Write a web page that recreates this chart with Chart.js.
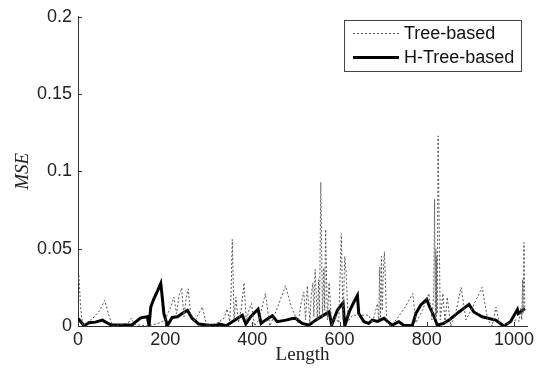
<!DOCTYPE html>
<html>
<head>
<meta charset="utf-8">
<script src="https://cdn.jsdelivr.net/npm/chart.js@4/dist/chart.umd.min.js"></script>
<style>
  html, body { margin: 0; padding: 0; background: #fff; }
  #wrap { width: 548px; height: 379px; }
</style>
</head>
<body>
<div id="wrap"><canvas id="mseChart" width="548" height="379"></canvas></div>
<script>
// Tree-based (dotted) series
const treeLength = [0, 2, 6, 11, 20, 34, 50, 61, 73, 80, 100, 115, 122, 130, 160, 187, 200, 212, 220, 226, 232, 238, 243, 248, 253, 258, 268, 285, 296, 320, 335, 342, 348, 351, 354, 358, 362, 368, 375, 381, 386, 392, 398, 405, 415, 430, 440, 455, 476, 490, 505, 512, 518, 522, 526, 532, 535, 539, 541, 544, 549, 552, 554, 557, 561, 564, 566, 568, 572, 576, 582, 590, 598, 601, 604, 608, 612, 615, 620, 630, 648, 667, 675, 681, 687, 690, 692, 694, 696, 698, 701, 703, 708, 715, 730, 750, 768, 775, 790, 805, 812, 816, 818, 820, 821, 822, 823, 824, 826, 831, 837, 842, 847, 855, 866, 879, 890, 905, 927, 940, 950, 959, 968, 990, 1005, 1012, 1016, 1018, 1020, 1021, 1023, 1025];
const treeMse = [0.028, 0.033, 0.012, 0.0, 0.002, 0.005, 0.010, 0.0166, 0.005, 0.0, 0.001, 0.002, 0.005, 0.001, 0.0, 0.002, 0.004, 0.012, 0.0187, 0.008, 0.02, 0.0246, 0.006, 0.018, 0.024, 0.008, 0.003, 0.0123, 0.0, 0.002, 0.005, 0.011, 0.003, 0.02, 0.056, 0.004, 0.0187, 0.002, 0.012, 0.028, 0.003, 0.01, 0.0145, 0.0, 0.004, 0.021, 0.0, 0.01, 0.026, 0.012, 0.002, 0.015, 0.022, 0.004, 0.026, 0.002, 0.02, 0.028, 0.006, 0.0367, 0.004, 0.03, 0.006, 0.093, 0.005, 0.0378, 0.01, 0.0626, 0.004, 0.028, 0.0, 0.006, 0.002, 0.03, 0.0597, 0.004, 0.045, 0.035, 0.003, 0.007, 0.007, 0.007, 0.002, 0.008, 0.0145, 0.004, 0.038, 0.005, 0.045, 0.01, 0.04, 0.048, 0.003, 0.0, 0.004, 0.012, 0.021, 0.002, 0.01, 0.021, 0.004, 0.02, 0.082, 0.004, 0.05, 0.006, 0.045, 0.008, 0.123, 0.004, 0.021, 0.002, 0.0187, 0.0, 0.008, 0.025, 0.004, 0.012, 0.025, 0.004, 0.0, 0.0123, 0.0, 0.002, 0.004, 0.003, 0.012, 0.004, 0.03, 0.008, 0.054, 0.01];

// H-Tree-based (solid) series
const hTreeLength = [0, 14, 25, 40, 56, 71, 78, 124, 128, 144, 159, 163, 167, 174, 183, 190, 197, 205, 216, 228, 239, 251, 262, 277, 300, 320, 323, 340, 354, 377, 385, 396, 413, 420, 430, 446, 457, 477, 492, 499, 514, 530, 545, 560, 576, 582, 595, 608, 612, 622, 633, 641, 644, 656, 667, 675, 687, 702, 710, 721, 736, 748, 767, 775, 786, 800, 805, 817, 824, 839, 851, 874, 897, 908, 927, 958, 977, 992, 1008, 1010, 1025];
const hTreeMse = [0.0049, 0.0002, 0.0021, 0.0025, 0.0038, 0.0013, 0.0006, 0.0006, 0.0017, 0.0053, 0.006, 0.0002, 0.0123, 0.0176, 0.023, 0.0276, 0.0081, 0.0002, 0.0055, 0.006, 0.0081, 0.0102, 0.0049, 0.0013, 0.0005, 0.0005, 0.0013, 0.0002, 0.0028, 0.007, 0.0013, 0.006, 0.0108, 0.0017, 0.0038, 0.0066, 0.0028, 0.0038, 0.0049, 0.005, 0.0017, 0.0006, 0.0038, 0.0064, 0.0091, 0.0006, 0.0102, 0.015, 0.0, 0.0091, 0.0155, 0.0197, 0.0081, 0.0028, 0.0017, 0.0038, 0.003, 0.005, 0.003, 0.0006, 0.0028, 0.0004, 0.0004, 0.0081, 0.0134, 0.0172, 0.0134, 0.006, 0.0006, 0.0017, 0.0038, 0.0091, 0.014, 0.0091, 0.006, 0.0038, 0.0, 0.0028, 0.0106, 0.008, 0.0113];

const xTicks = [0, 200, 400, 600, 800, 1000];
const yTicks = [0, 0.05, 0.1, 0.15, 0.2];
const seriesNames = ["Tree-based", "H-Tree-based"];

function toPoints(xs, ys) {
  return xs.map((x, i) => ({ x: x, y: ys[i] }));
}

const tickFont = { family: "'Liberation Sans', Arial, sans-serif", size: 18 };
const axisColor = "#333";

// MATLAB style inward ticks + boxed legend inside the axes
const matlabLook = {
  id: "matlabLook",
  afterDraw(chart) {
    const ctx = chart.ctx;
    const xs = chart.scales.x;
    const ys = chart.scales.y;
    const area = chart.chartArea;
    ctx.save();
    ctx.strokeStyle = axisColor;
    ctx.lineWidth = 1;
    ctx.beginPath();
    yTicks.forEach((v) => {
      const py = Math.round(ys.getPixelForValue(v)) + 0.5;
      ctx.moveTo(area.left, py);
      ctx.lineTo(area.left + 4, py);
    });
    xTicks.forEach((v) => {
      const px = Math.round(xs.getPixelForValue(v)) + 0.5;
      ctx.moveTo(px, area.bottom);
      ctx.lineTo(px, area.bottom - 4);
    });
    ctx.stroke();

    // legend box
    const bx = 344.5, by = 20.5, bw = 177, bh = 51;
    ctx.fillStyle = "#fff";
    ctx.fillRect(bx, by, bw, bh);
    ctx.strokeStyle = "#444";
    ctx.strokeRect(bx, by, bw, bh);
    const rows = [33, 57];
    chart.data.datasets.forEach((ds, i) => {
      const y = rows[i];
      ctx.beginPath();
      ctx.strokeStyle = ds.borderColor;
      ctx.lineWidth = ds.borderWidth;
      ctx.setLineDash(ds.borderDash || []);
      ctx.moveTo(353, y + 0.5);
      ctx.lineTo(399, y + 0.5);
      ctx.stroke();
      ctx.setLineDash([]);
      ctx.fillStyle = "#111";
      ctx.font = "18px 'Liberation Sans', Arial, sans-serif";
      ctx.textBaseline = "middle";
      ctx.fillText(ds.label, 404, y + 1);
    });
    ctx.restore();
  },
};

new Chart(document.getElementById("mseChart"), {
  type: "line",
  data: {
    datasets: [
      {
        label: seriesNames[0],
        data: toPoints(treeLength, treeMse),
        borderColor: "#555",
        borderWidth: 1,
        borderDash: [2, 2],
        pointRadius: 0,
        tension: 0,
      },
      {
        label: seriesNames[1],
        data: toPoints(hTreeLength, hTreeMse),
        borderColor: "#000",
        borderWidth: 3,
        pointRadius: 0,
        tension: 0,
      },
    ],
  },
  options: {
    responsive: false,
    animation: false,
    layout: { padding: { top: 12, right: 21, left: 12, bottom: 13 } },
    plugins: {
      legend: { display: false },
      tooltip: { enabled: false },
    },
    scales: {
      x: {
        type: "linear",
        min: 0,
        max: 1030,
        afterBuildTicks: (s) => { s.ticks = xTicks.map((v) => ({ value: v })); },
        afterFit: (s) => { s.height = 40; },
        grid: { display: false, drawTicks: false },
        border: { color: axisColor, width: 1 },
        ticks: {
          font: tickFont,
          color: "#222",
          padding: 3,
          maxRotation: 0,
          callback: (v) => String(v),
        },
        title: {
          display: true,
          text: "Length",
          font: { family: "'Liberation Serif', 'Times New Roman', serif", size: 19 },
          color: "#222",
          padding: { top: 0, bottom: 0 },
        },
      },
      y: {
        min: 0,
        max: 0.2,
        afterBuildTicks: (s) => { s.ticks = yTicks.map((v) => ({ value: v })); },
        afterFit: (s) => { s.width = 66; },
        grid: { display: false, drawTicks: false },
        border: { color: axisColor, width: 1 },
        ticks: {
          font: tickFont,
          color: "#222",
          padding: 6,
          callback: (v) => String(v),
        },
        title: {
          display: true,
          text: "MSE",
          font: { family: "'Liberation Serif', 'Times New Roman', serif", size: 19, style: "italic" },
          color: "#222",
          padding: { top: 0, bottom: 4 },
        },
      },
    },
  },
  plugins: [matlabLook],
});
</script>
</body>
</html>
